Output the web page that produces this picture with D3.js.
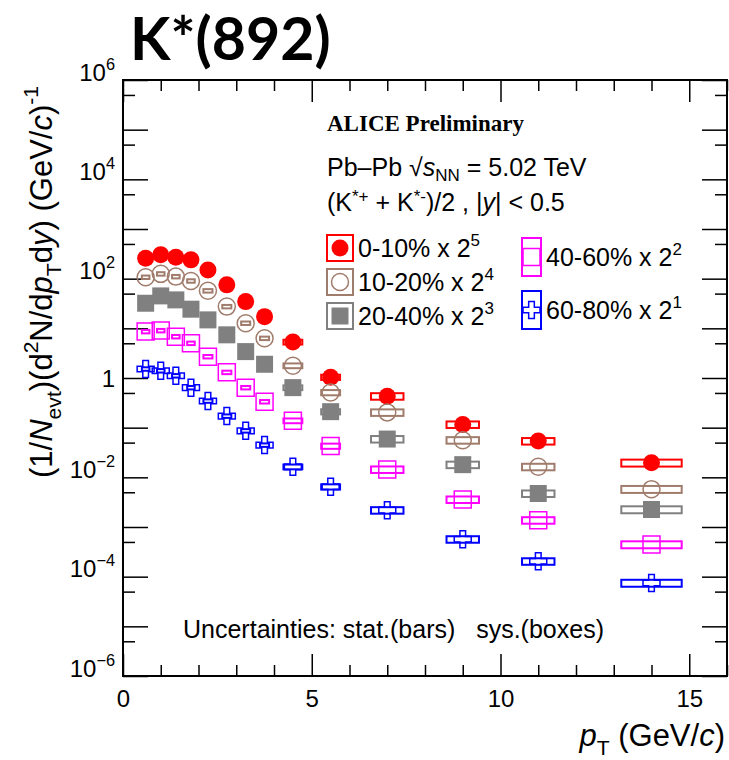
<!DOCTYPE html>
<html>
<head>
<meta charset="utf-8">
<script src="https://cdn.jsdelivr.net/npm/d3@7"></script>
<style>
  body { margin: 0; background: #fff; }
  svg { font-family: "Liberation Sans", Arial, sans-serif; }
</style>
</head>
<body>
<div id="chart"></div>
<script>
// pT bin centres (GeV/c), sys box half width in pT, relative sys / stat errors
const ptCenters = [0.6, 1.0, 1.4, 1.8, 2.25, 2.75, 3.25, 3.75, 4.5, 5.5, 7, 9, 11, 14];
const sysHalfWidth = [0.1, 0.1, 0.1, 0.1, 0.12, 0.12, 0.12, 0.12, 0.25, 0.25, 0.43, 0.43, 0.43, 0.8];
const sysRel = [0.08, 0.08, 0.08, 0.08, 0.08, 0.08, 0.08, 0.08, 0.11, 0.12, 0.15, 0.15, 0.15, 0.16];
const statRel = [0.01, 0.01, 0.01, 0.01, 0.01, 0.01, 0.01, 0.02, 0.02, 0.02, 0.03, 0.04, 0.05, 0.06];

// scaled yields per centrality class
const yields0010 = [259, 302, 271, 239, 150, 75, 34.5, 17.2, 5.3, 1.04, 0.43, 0.116, 0.0537, 0.0196];
const yields1020 = [107, 125, 110, 90, 57, 27.4, 12.7, 6.3, 1.77, 0.51, 0.203, 0.056, 0.0163, 0.00578];
const yields2040 = [32, 45, 37.4, 24.3, 14.8, 7.4, 3.4, 1.89, 0.64, 0.21, 0.059, 0.018, 0.00473, 0.00225];
const yields4060 = [8.6, 9.0, 6.8, 5.0, 2.69, 1.30, 0.64, 0.333, 0.138, 0.0426, 0.0144, 0.00358, 0.00137, 0.000444];
const yields6080 = [1.52, 1.40, 1.11, 0.64, 0.344, 0.171, 0.0865, 0.0446, 0.0163, 0.00645, 0.00218, 0.000567, 0.000204, 0.0000746];

const centLabels = ["0-10%", "10-20%", "20-40%", "40-60%", "60-80%"];
const scalePowers = [5, 4, 3, 2, 1];
const xTickValues = [0, 5, 10, 15];
const yLabelPowers = [6, 4, 2, 0, -2, -4, -6];

const W = 729, H = 760;
const FRAME = { left: 123, right: 727, top: 80, bottom: 676 };

const colors = ["#ff0000", "#a07c6c", "#808080", "#ff00ff", "#0000ff"];
const markerKinds = ["circleFull", "circleOpen", "squareFull", "squareOpen", "crossOpen"];
const MS = 17; // marker size px

const series = [yields0010, yields1020, yields2040, yields4060, yields6080].map((vals, k) => ({
  label: centLabels[k],
  power: scalePowers[k],
  color: colors[k],
  kind: markerKinds[k],
  points: vals.map((v, i) => ({ pt: ptCenters[i], v, hw: sysHalfWidth[i], sys: sysRel[i], stat: statRel[i] })),
}));

const x = d3.scaleLinear().domain([0, 16]).range([FRAME.left, FRAME.right]);
const y = d3.scaleLog().domain([1e-6, 1e6]).range([FRAME.bottom, FRAME.top]);

const svg = d3.select("#chart").append("svg").attr("width", W).attr("height", H);

// text with sub / superscripts
function rich(text, parts, fs, subShift = 0.3, supShift = 0.45) {
  let shift = 0;
  parts.forEach(([s, kind]) => {
    const target = kind.includes("sub") ? subShift * fs : kind.includes("sup") ? -supShift * fs : 0;
    const t = text.append("tspan").text(s).attr("dy", target - shift);
    shift = target;
    if (kind.includes("sub") || kind.includes("sup")) t.attr("font-size", fs * 0.68);
    if (kind.includes("i")) t.attr("font-style", "italic");
  });
  return text;
}

function markerPath(kind) {
  if (kind.startsWith("circle")) return d3.symbol(d3.symbolCircle, Math.PI * (MS / 2) ** 2)();
  if (kind.startsWith("square")) return d3.symbol(d3.symbolSquare, MS * MS)();
  return d3.symbol(d3.symbolCross, (MS / 3) ** 2 * 5)();
}
function styleMarker(sel, kind, color) {
  const open = kind.endsWith("Open");
  sel.attr("d", markerPath(kind))
    .attr("fill", open ? "none" : color)
    .attr("stroke", color)
    .attr("stroke-width", open ? 1.5 : 0);
}

// title
svg.append("text")
  .attr("x", 130).attr("y", 60)
  .attr("font-family", "Lato, 'Liberation Sans', sans-serif")
  .attr("font-weight", "bold")
  .attr("font-size", 59)
  .text("K*(892)");

// axes (ticks inside, ROOT style)
const axisG = svg.append("g");
const minorX = d3.range(0, 17).filter((d) => d % 5 !== 0);
const majorY = d3.range(-6, 7).map((k) => Math.pow(10, k));
const minorY = d3.range(-6, 6).map((k) => 5 * Math.pow(10, k));

const bottomMajor = axisG.append("g").attr("transform", `translate(0,${FRAME.bottom})`)
  .call(d3.axisBottom(x).tickValues(xTickValues).tickSize(-22).tickPadding(14).tickFormat(d3.format("d")));
axisG.append("g").attr("transform", `translate(0,${FRAME.bottom})`)
  .call(d3.axisBottom(x).tickValues(minorX).tickSize(-11).tickFormat(""));
axisG.append("g").attr("transform", `translate(0,${FRAME.top})`)
  .call(d3.axisTop(x).tickValues(xTickValues).tickSize(-22).tickFormat(""));
axisG.append("g").attr("transform", `translate(0,${FRAME.top})`)
  .call(d3.axisTop(x).tickValues(minorX).tickSize(-11).tickFormat(""));

const leftMajor = axisG.append("g").attr("transform", `translate(${FRAME.left},0)`)
  .call(d3.axisLeft(y).tickValues(majorY).tickSize(-25).tickPadding(8).tickFormat(""));
axisG.append("g").attr("transform", `translate(${FRAME.left},0)`)
  .call(d3.axisLeft(y).tickValues(minorY).tickSize(-12).tickFormat(""));
axisG.append("g").attr("transform", `translate(${FRAME.right},0)`)
  .call(d3.axisRight(y).tickValues(majorY).tickSize(-25).tickFormat(""));
axisG.append("g").attr("transform", `translate(${FRAME.right},0)`)
  .call(d3.axisRight(y).tickValues(minorY).tickSize(-12).tickFormat(""));

axisG.selectAll(".domain").remove();
axisG.selectAll(".tick line").attr("stroke", "#000").attr("stroke-width", 1.5);
bottomMajor.selectAll("text").attr("font-size", 24).attr("font-family", "Liberation Sans, Arial, sans-serif").attr("fill", "#000");

// y tick labels with superscript exponents
const labelFs = 24;
leftMajor.selectAll(".tick")
  .filter((d) => yLabelPowers.includes(Math.round(Math.log10(d))))
  .append("text")
  .attr("x", -8).attr("dy", "0.35em")
  .attr("text-anchor", "end")
  .attr("fill", "#000")
  .attr("font-size", labelFs)
  .attr("font-family", "Liberation Sans, Arial, sans-serif")
  .each(function (d) {
    const p = Math.round(Math.log10(d));
    const t = d3.select(this);
    if (p === 0) t.text("1");
    else rich(t, [["10", ""], [p < 0 ? "\u2212" + (-p) : String(p), "sup"]], labelFs);
  });

svg.append("rect")
  .attr("x", FRAME.left).attr("y", FRAME.top)
  .attr("width", FRAME.right - FRAME.left).attr("height", FRAME.bottom - FRAME.top)
  .attr("fill", "none").attr("stroke", "#000").attr("stroke-width", 2);

// axis titles
const titleFs = 31;
rich(svg.append("text")
  .attr("transform", `translate(52,${FRAME.top + 6}) rotate(-90)`)
  .attr("text-anchor", "end")
  .attr("font-size", titleFs),
  [["(1/", ""], ["N", "i"], ["evt", "sub"], [")(d", ""], ["2", "sup"], ["N/d", ""], ["p", "i"], ["T", "sub"],
   ["d", ""], ["y", "i"], [") (GeV/", ""], ["c", "i"], [")", ""], ["-1", "sup"]], titleFs);

rich(svg.append("text")
  .attr("x", W - 4).attr("y", 746)
  .attr("text-anchor", "end")
  .attr("font-size", titleFs),
  [["p", "i"], ["T", "sub"], [" (GeV/", ""], ["c", "i"], [")", ""]], titleFs);

// data: sys boxes, stat bars, markers
const plot = svg.append("g");
series.forEach((s) => {
  const g = plot.append("g");
  g.selectAll("rect")
    .data(s.points)
    .join("rect")
    .attr("x", (d) => x(d.pt - d.hw))
    .attr("width", (d) => x(d.pt + d.hw) - x(d.pt - d.hw))
    .attr("y", (d) => y(d.v * (1 + d.sys)))
    .attr("height", (d) => y(d.v * (1 - d.sys)) - y(d.v * (1 + d.sys)))
    .attr("fill", "none")
    .attr("stroke", s.color)
    .attr("stroke-width", 2);

  // stat bars only where they leave the marker
  g.selectAll("line")
    .data(s.points.filter((d) => y(d.v) - y(d.v * (1 + d.stat)) > MS / 2))
    .join("line")
    .attr("x1", (d) => x(d.pt)).attr("x2", (d) => x(d.pt))
    .attr("y1", (d) => y(d.v * (1 + d.stat)))
    .attr("y2", (d) => y(d.v * (1 - d.stat)))
    .attr("stroke", s.color).attr("stroke-width", 1.5);

  g.selectAll("path")
    .data(s.points)
    .join("path")
    .attr("transform", (d) => `translate(${x(d.pt)},${y(d.v)})`)
    .call(styleMarker, s.kind, s.color);
});

// header texts
svg.append("text")
  .attr("x", 327).attr("y", 131)
  .attr("font-family", "'Liberation Serif', 'Times New Roman', serif")
  .attr("font-weight", "bold").attr("font-size", 23)
  .text("ALICE Preliminary");

const textFs = 25;
rich(svg.append("text").attr("x", 327).attr("y", 176).attr("font-size", textFs),
  [["Pb\u2013Pb \u221A", ""], ["s", "i"], ["NN", "sub"], [" = 5.02 TeV", ""]], textFs, 0.2, 0.38);

rich(svg.append("text").attr("x", 327).attr("y", 211).attr("font-size", textFs),
  [["(K", ""], ["*+", "sup"], [" + K", ""], ["*-", "sup"], [")/2 , |", ""], ["y", "i"], ["| < 0.5", ""]], textFs, 0.2, 0.38);

// legend
const legendPos = [
  { x: 327, y: 235, w: 26, h: 26 },
  { x: 327, y: 269, w: 26, h: 26 },
  { x: 327, y: 303, w: 26, h: 26 },
  { x: 522, y: 238, w: 19, h: 38 },
  { x: 522, y: 291, w: 19, h: 38 },
];
const legend = svg.append("g").selectAll("g")
  .data(series)
  .join("g")
  .attr("transform", (d, i) => `translate(${legendPos[i].x},${legendPos[i].y})`);

legend.append("rect")
  .attr("width", (d, i) => legendPos[i].w)
  .attr("height", (d, i) => legendPos[i].h)
  .attr("fill", "none")
  .attr("stroke", (d) => d.color)
  .attr("stroke-width", 2);

legend.append("path")
  .attr("transform", (d, i) => `translate(${legendPos[i].w / 2},${legendPos[i].h / 2})`)
  .each(function (d) { d3.select(this).call(styleMarker, d.kind, d.color); });

legend.append("text")
  .attr("x", (d, i) => legendPos[i].w + 5)
  .attr("y", (d, i) => legendPos[i].h / 2 + 9)
  .attr("font-size", textFs)
  .each(function (d) {
    rich(d3.select(this), [[d.label + " x 2", ""], [String(d.power), "sup"]], textFs);
  });

svg.append("text")
  .attr("x", 183).attr("y", 638)
  .attr("font-size", 25)
  .style("white-space", "pre")
  .text("Uncertainties: stat.(bars)   sys.(boxes)");
</script>
</body>
</html>
